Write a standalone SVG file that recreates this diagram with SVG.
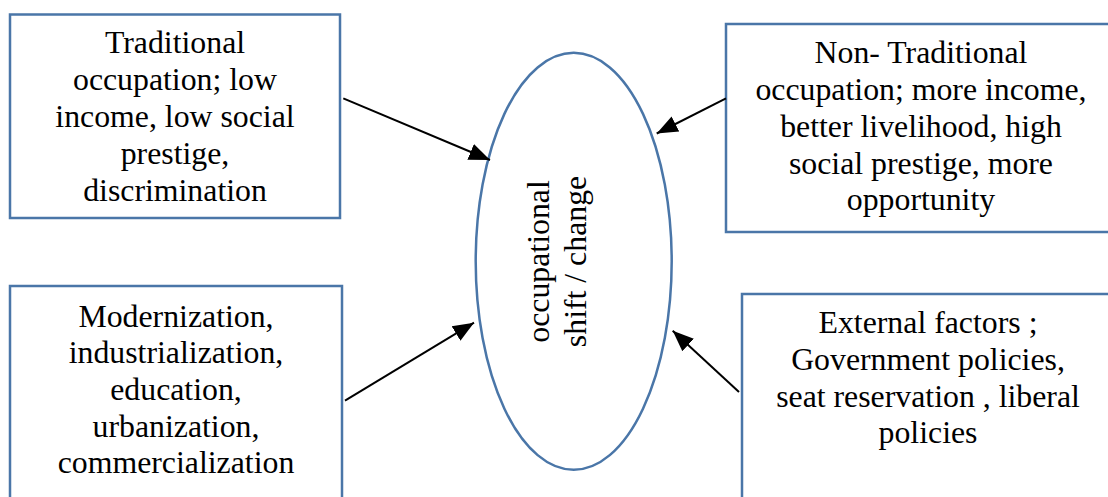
<svg xmlns="http://www.w3.org/2000/svg" width="1108" height="497" viewBox="0 0 1108 497">
<style>
.box{fill:#fff;stroke:#4A76A8;stroke-width:2.5}
.t{font-family:'Liberation Serif','Times New Roman','DejaVu Serif',serif;font-size:31.8px;fill:#000;text-anchor:middle}
.c{stroke:#000;stroke-width:2;fill:none}
</style>
<defs>
<marker id="ah" markerUnits="userSpaceOnUse" markerWidth="24" markerHeight="20" viewBox="0 0 24 20" refX="21" refY="10" orient="auto">
<path d="M0,1.5 L21,10 L0,18.5 Z" fill="#000"/>
</marker>
</defs>
<rect width="1108" height="497" fill="#fff"/>
<g id="n1">
<rect class="box" x="10" y="14.5" width="330" height="203.5"/>
<text class="t"><tspan x="175" y="53">Traditional</tspan><tspan x="175" y="90">occupation; low</tspan><tspan x="175" y="127">income, low social</tspan><tspan x="175" y="164">prestige,</tspan><tspan x="175" y="201">discrimination</tspan></text>
</g>
<g id="n2">
<rect class="box" x="726" y="24" width="400" height="208"/>
<text class="t"><tspan x="921" y="63">Non- Traditional</tspan><tspan x="921" y="100">occupation; more income,</tspan><tspan x="921" y="137">better livelihood, high</tspan><tspan x="921" y="174">social prestige, more</tspan><tspan x="921" y="210">opportunity</tspan></text>
</g>
<g id="n3">
<rect class="box" x="10" y="286" width="332" height="230"/>
<text class="t"><tspan x="176" y="327">Modernization,</tspan><tspan x="176" y="363">industrialization,</tspan><tspan x="176" y="400">education,</tspan><tspan x="176" y="437">urbanization,</tspan><tspan x="176" y="473">commercialization</tspan></text>
</g>
<g id="n4">
<rect class="box" x="742" y="294" width="400" height="230"/>
<text class="t"><tspan x="928" y="333">External factors ;</tspan><tspan x="928" y="370">Government policies,</tspan><tspan x="928" y="407">seat reservation , liberal</tspan><tspan x="928" y="443">policies</tspan></text>
</g>
<g id="center">
<ellipse class="box" cx="573.7" cy="261.3" rx="98" ry="208.5"/>
<text class="t" transform="rotate(-90)"><tspan x="-261.5" y="549">occupational</tspan><tspan x="-261.5" y="586">shift / change</tspan></text>
</g>
<g id="connectors">
<line class="c" x1="343.3" y1="98.3" x2="490" y2="160" marker-end="url(#ah)"/>
<line class="c" x1="726" y1="98.3" x2="656.7" y2="133.5" marker-end="url(#ah)"/>
<line class="c" x1="345" y1="400.7" x2="474" y2="322.7" marker-end="url(#ah)"/>
<line class="c" x1="739" y1="392" x2="672.7" y2="330.7" marker-end="url(#ah)"/>
</g>
</svg>
